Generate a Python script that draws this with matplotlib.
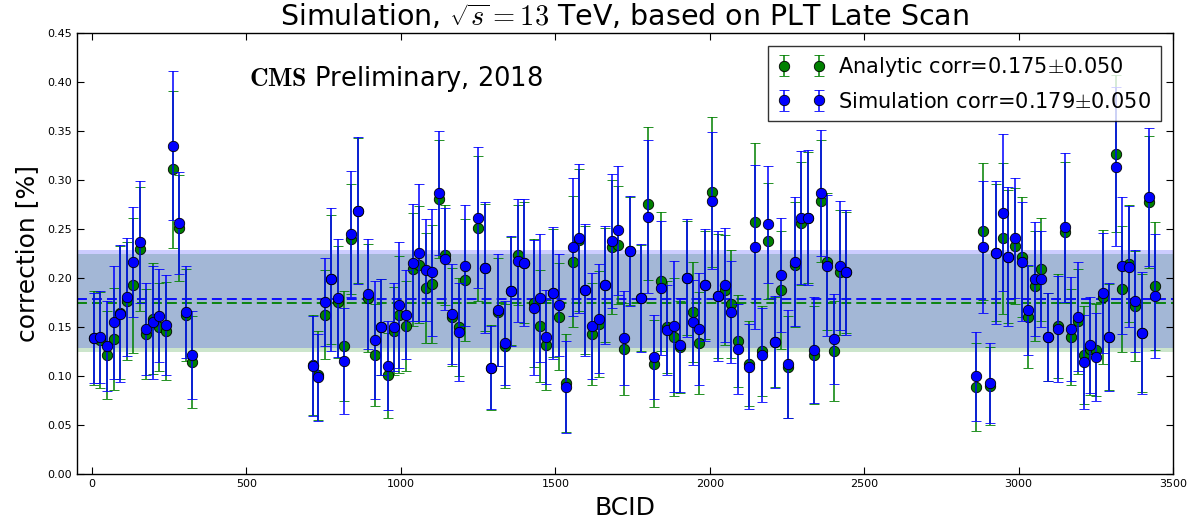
import matplotlib
matplotlib.use("Agg")
import matplotlib.pyplot as plt

plt.rcParams['mathtext.fontset'] = 'cm'
plt.rcParams['font.family'] = ['DejaVu Sans']

bcid = [5, 27, 49, 70, 92, 113, 134, 156, 176, 198, 218, 240, 261, 282, 304, 325,
        714, 732, 753, 774, 796, 816, 838, 860, 893, 915, 935, 957, 979, 995, 1016, 1038,
        1060, 1080, 1102, 1123, 1144, 1166, 1187, 1208, 1251, 1273, 1293, 1315, 1336, 1357,
        1378, 1400, 1430, 1450, 1471, 1493, 1513, 1535, 1556, 1578, 1597, 1619, 1641, 1662,
        1683, 1703, 1722, 1743, 1777, 1799, 1820, 1842, 1862, 1884, 1905, 1926, 1947, 1964,
        1985, 2007, 2027, 2049, 2070, 2092, 2126, 2147, 2168, 2189, 2212, 2232, 2253, 2275,
        2295, 2317, 2339, 2359, 2381, 2402, 2423, 2440,
        2863, 2885, 2907, 2928, 2949, 2967, 2989, 3010, 3031, 3052, 3073, 3095, 3128, 3150,
        3171, 3192, 3212, 3231, 3250, 3273, 3294, 3314, 3335, 3357, 3378, 3400, 3422, 3443]

sim_corr = [0.139, 0.140, 0.131, 0.155, 0.164, 0.181, 0.217, 0.237, 0.148, 0.155, 0.162, 0.152, 0.335, 0.256, 0.166, 0.122,
            0.111, 0.099, 0.176, 0.199, 0.180, 0.116, 0.245, 0.269, 0.184, 0.137, 0.150, 0.111, 0.150, 0.173, 0.163, 0.216,
            0.226, 0.208, 0.206, 0.287, 0.220, 0.164, 0.145, 0.213, 0.262, 0.211, 0.109, 0.168, 0.134, 0.187,
            0.218, 0.216, 0.170, 0.180, 0.140, 0.185, 0.173, 0.089, 0.232, 0.241, 0.188, 0.151, 0.159, 0.193,
            0.238, 0.249, 0.139, 0.228, 0.180, 0.263, 0.120, 0.190, 0.147, 0.151, 0.132, 0.200, 0.155, 0.148,
            0.193, 0.279, 0.182, 0.193, 0.166, 0.128, 0.110, 0.232, 0.122, 0.255, 0.135, 0.203, 0.113, 0.217,
            0.262, 0.262, 0.127, 0.287, 0.213, 0.138, 0.213, 0.206,
            0.100, 0.232, 0.093, 0.226, 0.267, 0.222, 0.241, 0.217, 0.168, 0.199, 0.199, 0.140, 0.148, 0.252,
            0.148, 0.161, 0.115, 0.132, 0.120, 0.185, 0.140, 0.314, 0.213, 0.212, 0.177, 0.144, 0.283, 0.182]

ana_corr = [0.139, 0.137, 0.122, 0.138, 0.165, 0.177, 0.193, 0.230, 0.143, 0.159, 0.150, 0.146, 0.311, 0.251, 0.163, 0.115,
            0.112, 0.101, 0.163, 0.199, 0.176, 0.131, 0.240, 0.269, 0.180, 0.122, 0.150, 0.101, 0.146, 0.163, 0.151, 0.209,
            0.214, 0.190, 0.194, 0.281, 0.224, 0.161, 0.150, 0.198, 0.251, 0.211, 0.109, 0.166, 0.131, 0.187,
            0.224, 0.216, 0.175, 0.151, 0.132, 0.185, 0.161, 0.093, 0.217, 0.239, 0.188, 0.143, 0.153, 0.193,
            0.232, 0.234, 0.128, 0.228, 0.180, 0.276, 0.113, 0.197, 0.150, 0.140, 0.130, 0.200, 0.166, 0.134,
            0.193, 0.288, 0.182, 0.188, 0.174, 0.136, 0.113, 0.257, 0.126, 0.238, 0.135, 0.188, 0.110, 0.214,
            0.256, 0.262, 0.122, 0.279, 0.217, 0.126, 0.206, 0.206,
            0.089, 0.248, 0.090, 0.226, 0.241, 0.222, 0.233, 0.222, 0.161, 0.192, 0.209, 0.140, 0.151, 0.247,
            0.140, 0.156, 0.122, 0.128, 0.127, 0.181, 0.140, 0.327, 0.189, 0.215, 0.172, 0.144, 0.278, 0.192]

sim_err = [0.046, 0.047, 0.046, 0.058, 0.070, 0.060, 0.056, 0.062, 0.047, 0.058, 0.047, 0.051, 0.076, 0.052, 0.047, 0.045,
           0.051, 0.044, 0.045, 0.073, 0.060, 0.054, 0.064, 0.075, 0.056, 0.060, 0.049, 0.045, 0.045, 0.064, 0.045, 0.060,
           0.070, 0.052, 0.065, 0.063, 0.052, 0.051, 0.050, 0.062, 0.072, 0.067, 0.042, 0.057, 0.043, 0.056,
           0.063, 0.065, 0.069, 0.065, 0.048, 0.067, 0.052, 0.047, 0.070, 0.076, 0.067, 0.054, 0.056, 0.060,
           0.068, 0.066, 0.048, 0.056, 0.055, 0.078, 0.043, 0.068, 0.046, 0.067, 0.048, 0.060, 0.043, 0.057,
           0.057, 0.070, 0.066, 0.058, 0.052, 0.046, 0.043, 0.084, 0.048, 0.060, 0.047, 0.058, 0.055, 0.066,
           0.068, 0.069, 0.054, 0.064, 0.072, 0.046, 0.066, 0.064,
           0.045, 0.067, 0.041, 0.073, 0.080, 0.071, 0.061, 0.061, 0.046, 0.058, 0.049, 0.045, 0.054, 0.076,
           0.053, 0.056, 0.048, 0.049, 0.045, 0.061, 0.055, 0.081, 0.070, 0.062, 0.052, 0.062, 0.070, 0.063]

ana_err = [0.048, 0.049, 0.045, 0.052, 0.068, 0.060, 0.069, 0.063, 0.046, 0.057, 0.045, 0.050, 0.080, 0.054, 0.047, 0.047,
           0.051, 0.045, 0.045, 0.066, 0.057, 0.056, 0.056, 0.074, 0.055, 0.052, 0.049, 0.043, 0.045, 0.060, 0.046, 0.058,
           0.060, 0.056, 0.060, 0.060, 0.051, 0.050, 0.050, 0.062, 0.074, 0.065, 0.043, 0.055, 0.043, 0.055,
           0.051, 0.062, 0.065, 0.057, 0.046, 0.065, 0.055, 0.050, 0.067, 0.072, 0.065, 0.052, 0.054, 0.058,
           0.068, 0.060, 0.047, 0.055, 0.054, 0.078, 0.044, 0.071, 0.047, 0.060, 0.047, 0.058, 0.051, 0.052,
           0.055, 0.076, 0.063, 0.056, 0.055, 0.047, 0.043, 0.081, 0.046, 0.059, 0.046, 0.060, 0.052, 0.064,
           0.063, 0.067, 0.050, 0.062, 0.070, 0.051, 0.064, 0.062,
           0.045, 0.070, 0.040, 0.070, 0.077, 0.068, 0.059, 0.061, 0.052, 0.056, 0.053, 0.045, 0.053, 0.072,
           0.049, 0.054, 0.050, 0.047, 0.047, 0.068, 0.054, 0.080, 0.064, 0.060, 0.056, 0.060, 0.067, 0.065]

ana_mean, ana_unc = 0.175, 0.050
sim_mean, sim_unc = 0.179, 0.050

fig = plt.figure(figsize=(11.97, 5.26), dpi=100)
ax = fig.add_axes([0.064, 0.098, 0.916, 0.839])

xlim = (-50, 3500)
ax.fill_between(xlim, ana_mean - ana_unc, ana_mean + ana_unc, color='green', alpha=0.2, lw=0, zorder=1)
ax.fill_between(xlim, sim_mean - sim_unc, sim_mean + sim_unc, color='blue', alpha=0.2, lw=0, zorder=1)
ax.axhline(ana_mean, color='green', ls=(0, (5.5, 2.8)), lw=1.3, zorder=2)
ax.axhline(sim_mean, color='blue', ls=(0, (5.5, 2.8)), lw=1.3, zorder=2)

ax.errorbar(bcid, ana_corr, yerr=ana_err, fmt='o', color='green', ecolor='green',
            mec='black', mew=0.6, ms=7.5, elinewidth=1.1, capsize=3.5, capthick=0.8,
            label='Analytic corr=%.3f$\\pm$%.3f' % (ana_mean, ana_unc), zorder=3)
ax.errorbar(bcid, sim_corr, yerr=sim_err, fmt='o', color='blue', ecolor='blue',
            mec='black', mew=0.6, ms=7.5, elinewidth=1.1, capsize=3.5, capthick=0.8,
            label='Simulation corr=%.3f$\\pm$%.3f' % (sim_mean, sim_unc), zorder=4)

ax.set_xlim(*xlim)
ax.set_ylim(0.0, 0.45)
ax.set_xticks([0, 500, 1000, 1500, 2000, 2500, 3000, 3500])
ax.set_yticks([0.00, 0.05, 0.10, 0.15, 0.20, 0.25, 0.30, 0.35, 0.40, 0.45])
ax.tick_params(direction='in', top=True, right=True, labelsize=8, length=5)
for s in ax.spines.values():
    s.set_linewidth(1.0)

ax.set_xlabel('BCID', fontsize=18, labelpad=5)
ax.set_ylabel('correction [%]', fontsize=18, labelpad=6)
ax.set_title('Simulation, $\\sqrt{s}=13$ TeV, based on PLT Late Scan', fontsize=20.5, pad=5)

ax.text(0.157, 0.895, '$\\mathbf{CMS}$ Preliminary, 2018', transform=ax.transAxes,
        fontsize=18.5, ha='left', va='center')

leg = ax.legend(loc='upper right', numpoints=2, fontsize=15, frameon=True, fancybox=False,
                borderaxespad=0.6, handlelength=2.3, handletextpad=0.6, borderpad=0.45,
                labelspacing=0.6)
leg.get_frame().set_edgecolor('black')
leg.get_frame().set_linewidth(1.0)

fig.savefig('out.png', dpi=100, facecolor='white')
